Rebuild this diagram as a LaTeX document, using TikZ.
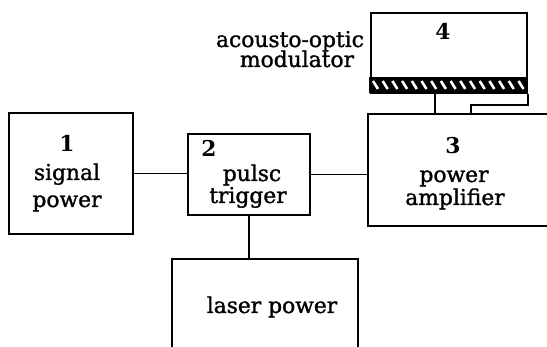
\documentclass[tikz,border=0pt]{standalone}
\usepackage{fontspec}
\setmainfont{DejaVu Serif}
\newfontfamily\reffont[FakeBold=1.3]{DejaVu Serif}
\begin{document}
\begin{tikzpicture}[x=1pt,y=-1pt,
  box/.style={draw,line width=1.8pt,inner sep=0pt,anchor=north west},
  conn/.style={line width=1.5pt},
  lab/.style={font=\reffont\fontsize{21.8}{24}\selectfont,anchor=base,inner sep=0pt},
  num/.style={lab,font=\fontsize{21.8}{24}\selectfont\bfseries}]
\useasboundingbox[fill=white] (0,0) rectangle (547,347);
% boxes
\node[box,minimum width=124pt,minimum height=121pt] (b1) at (8,112) {};
\node[box,minimum width=122pt,minimum height=81pt] (b2) at (187,133) {};
\node[box,minimum width=200pt,minimum height=112pt] (b3) at (367,113) {};
\node[box,minimum width=156pt,minimum height=80pt] (b4) at (370,12) {};
\node[box,minimum width=186pt,minimum height=100pt] (b5) at (171,258) {};
% hatched strip of the modulator
\fill[black] (370,78) rectangle (526,92);
\foreach \x in {373,382.7,...,520} \draw[white,line width=2.6pt] (\x,81) -- (\x+5,89);
\draw[line width=1.8pt] (370,78) rectangle (526,92);
% texts
\node[num] (n1) at (67,152) {1};
\node[lab] (s1) at (67,180) {signal};
\node[lab] (p1) at (67,207) {power};
\node[num] (n2) at (209,157) {2};
\node[lab] (s2) at (252,181) {pulsc};
\node[lab] (t2) at (248,203) {trigger};
\node[num] (n3) at (453,154) {3};
\node[lab] (s3) at (454,182) {power};
\node[lab] (a3) at (455,205) {amplifier};
\node[num] (n4) at (443,40) {4};
\node[lab] (ao) at (290,47) {acousto-optic};
\node[lab] (mo) at (297,67) {modulator};
\node[lab] (lp) at (272,313) {laser power};
% connectors
\draw[conn] (b1.east) -- (b1.east -| b2.west);
\draw[conn] (b2.east) -- (b2.east -| b3.west);
\draw[conn] (b2.south) -- (b2.south |- b5.north);
\coordinate (m1) at (435,92);
\coordinate (m2) at (471,113);
\draw[conn] (m1) -- (m1 |- b3.north);
\draw[conn] (b4.south east) -- ++(0,11) -| (m2);
\end{tikzpicture}
\end{document}
